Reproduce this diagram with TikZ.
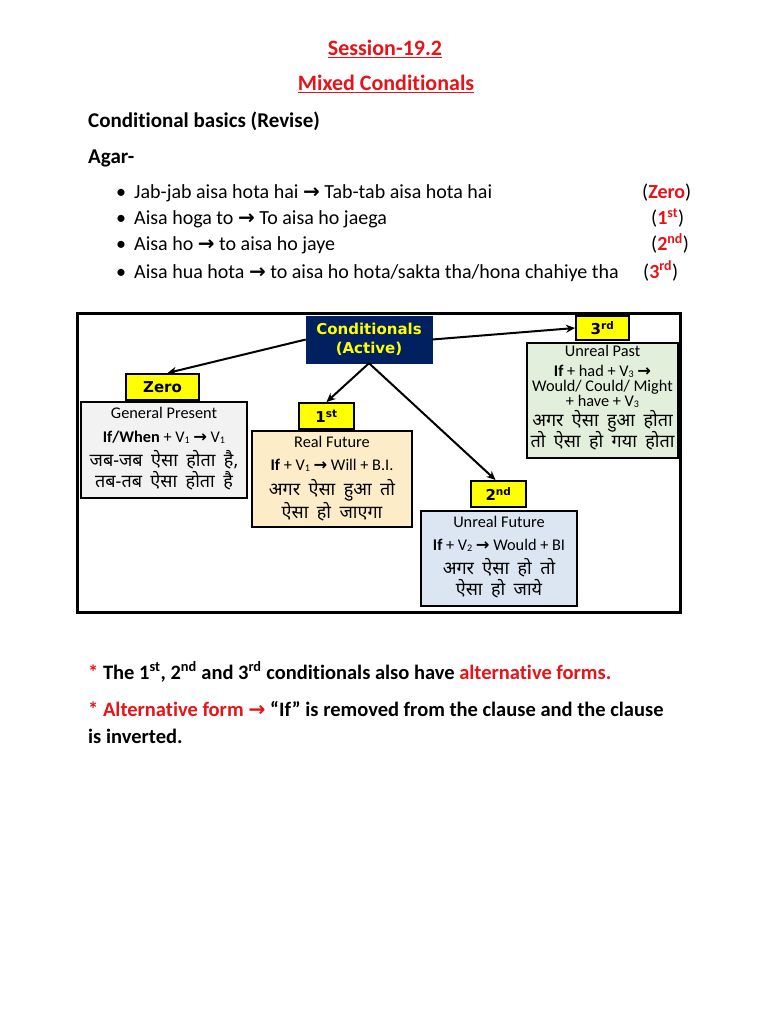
\documentclass[tikz,border=0pt]{standalone}
\usepackage{fontspec}
\setmainfont{Carlito}[Ligatures=NoCommon]
\newfontfamily\djv{DejaVu Sans}
\newfontfamily\hin[Script=Devanagari,WordSpace=1.8]{Noto Sans}
\usetikzlibrary{arrows.meta,calc}
\definecolor{myred}{RGB}{230,20,25}
\definecolor{navy}{RGB}{0,32,96}
\definecolor{ylw}{RGB}{255,255,0}
\definecolor{grayfill}{RGB}{242,242,242}
\definecolor{peach}{RGB}{253,236,200}
\definecolor{bluefill}{RGB}{220,230,242}
\definecolor{greenfill}{RGB}{226,239,218}
\newcommand\rar{{\djv\bfseries →}}
\newcommand\sbs[1]{\raisebox{-0.08em}{\scalebox{0.62}{#1}}}
\tikzset{
  txt/.style={inner sep=0pt, anchor=base west, font=\fontsize{20}{22}\selectfont},
  btxt/.style={txt, font=\fontsize{21}{24}\selectfont\bfseries},
  ntxt/.style={txt, font=\fontsize{20.5}{24}\selectfont\bfseries},
  ttl/.style={inner sep=0pt, anchor=base, text=myred, font=\fontsize{22}{24}\selectfont\bfseries},
  dt/.style={inner sep=0pt, anchor=base, font=\fontsize{16.3}{18}\selectfont},
  dh/.style={inner sep=0pt, anchor=base, font=\hin\fontsize{18}{20}\selectfont},
  lab/.style={draw, line width=2pt, fill=ylw, inner sep=0pt, font=\djv\bfseries\fontsize{15}{17}\selectfont},
  cbox/.style={draw, line width=2pt, inner sep=0pt},
  conn/.style={-{Stealth[length=9pt,width=8pt]}, line width=2pt},
}
\begin{document}
\begin{tikzpicture}[x=1pt,y=-1pt]
\path[use as bounding box, fill=white] (0,0) rectangle (768,1024);

% headings
\node[ttl] (t1) at (385,56) {\underline{Session-19.2}};
\node[ttl] (t2) at (386,91) {\underline{Mixed Conditionals}};
\node[btxt] (h1) at (88,128) {Conditional basics (Revise)};
\node[btxt] (h2) at (88,164) {Agar-};

% bullet list
\node[txt] (b1) at (116,199) {\textbullet};
\node[txt] (b2) at (116,225) {\textbullet};
\node[txt] (b3) at (116,251) {\textbullet};
\node[txt] (b4) at (116,278) {\textbullet};
\node[txt] (l1) at (134,199) {Jab-jab aisa hota hai \rar{} Tab-tab aisa hota hai};
\node[txt] (l2) at (134,225) {Aisa hoga to \rar{} To aisa ho jaega};
\node[txt] (l3) at (134,251) {Aisa ho \rar{} to aisa ho jaye};
\node[txt] (l4) at (134,278) {Aisa hua hota \rar{} to aisa ho hota/sakta tha/hona chahiye tha};
\node[txt] (r1) at (642,199) {(\textcolor{myred}{\textbf{Zero}})};
\node[txt] (r2) at (651,225) {(\textcolor{myred}{\textbf{1\textsuperscript{st}}})};
\node[txt] (r3) at (651,251) {(\textcolor{myred}{\textbf{2\textsuperscript{nd}}})};
\node[txt] (r4) at (643,278) {(\textcolor{myred}{\textbf{3\textsuperscript{rd}}})};

% frame
\draw[line width=3pt] (77,313) rectangle (680,612);

% boxes
\node[cbox, fill=grayfill, minimum width=166pt, minimum height=96pt] (gp) at (164,450) {};
\node[cbox, fill=peach, minimum width=160pt, minimum height=96pt] (rf) at (332,479) {};
\node[cbox, fill=bluefill, minimum width=156pt, minimum height=95pt] (uf) at (499,558.5) {};
\node[cbox, fill=greenfill, minimum width=151pt, minimum height=115pt] (up) at (602.5,400.5) {};

% labels
\node[lab, minimum width=73pt, minimum height=26pt] (zero) at (162.5,387) {Zero};
\node[lab, minimum width=55pt, minimum height=26pt] (first) at (326.5,416) {1\textsuperscript{st}};
\node[lab, minimum width=55pt, minimum height=26pt] (second) at (498.5,494) {2\textsuperscript{nd}};
\node[lab, minimum width=53pt, minimum height=24pt] (third) at (602.5,328) {3\textsuperscript{rd}};

% central node
\node[draw=navy, fill=navy, text=ylw, inner sep=0pt, minimum width=126pt, minimum height=47pt, align=center,
  font=\djv\bfseries\fontsize{15}{19}\selectfont] (cond) at (369,339.5) {Conditionals\\(Active)};

% connectors
\draw[conn] (cond.west) -- ($(zero.north)+(5,0)$);
\draw[conn] (cond.south) -- (first.north);
\draw[conn] (cond.south) -- ($(second.north)+(-3,0)$);
\draw[conn] (cond.east) -- (third.west);

% zero box text
\node[dt] (gp1) at (164,418) {General Present};
\node[dt] (gp2) at (164,442) {\textbf{If/When} + V\sbs{1} \rar{} V\sbs{1}};
\node[dh] (gp3) at (164,466) {जब-जब ऐसा होता है,};
\node[dh] (gp4) at (164,487) {तब-तब ऐसा होता है};

% first box text
\node[dt] (rf1) at (332,447) {Real Future};
\node[dt] (rf2) at (332,470) {\textbf{If} + V\sbs{1} \rar{} Will + B.I.};
\node[dh] (rf3) at (332,495) {अगर ऐसा हुआ तो};
\node[dh] (rf4) at (332,518) {ऐसा हो जाएगा};

% second box text
\node[dt] (uf1) at (499,527) {Unreal Future};
\node[dt] (uf2) at (499,550) {\textbf{If} + V\sbs{2} \rar{} Would + BI};
\node[dh] (uf3) at (499,574) {अगर ऐसा हो तो};
\node[dh] (uf4) at (499,595) {ऐसा हो जाये};

% third box text
\node[dt] (up1) at (602.5,356) {Unreal Past};
\node[dt] (up2) at (602.5,376) {\textbf{If} + had + V\sbs{3} \rar{}};
\node[dt] (up3) at (602.5,391) {Would/ Could/ Might};
\node[dt] (up4) at (602.5,406) {+ have + V\sbs{3}};
\node[dh] (up5) at (602.5,426) {अगर ऐसा हुआ होता};
\node[dh] (up6) at (602.5,447) {तो ऐसा हो गया होता};

% bottom notes
\node[ntxt] (n1) at (88,679) {\textcolor{myred}{*} The 1\textsuperscript{st}, 2\textsuperscript{nd} and 3\textsuperscript{rd} conditionals also have \textcolor{myred}{alternative forms.}};
\node[ntxt] (n2) at (88,716) {\textcolor{myred}{* Alternative form \rar}{} “If” is removed from the clause and the clause};
\node[ntxt] (n3) at (88,743) {is inverted.};
\end{tikzpicture}
\end{document}
